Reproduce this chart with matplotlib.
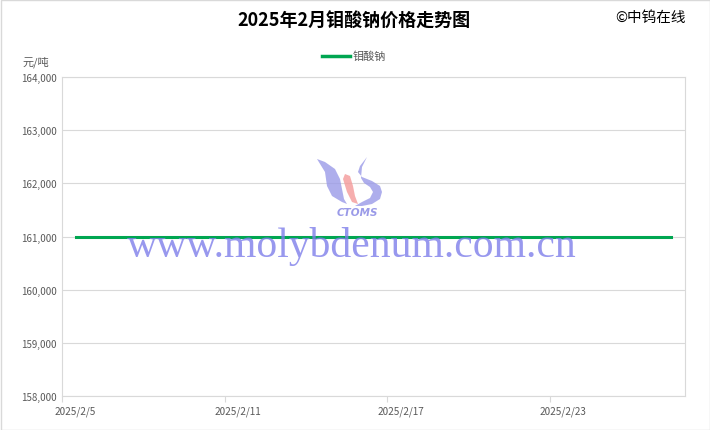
import matplotlib.pyplot as plt
import matplotlib.transforms as mtransforms
from matplotlib.patches import Polygon
from matplotlib.lines import Line2D
import numpy as np

plt.rcParams['font.family'] = ['Noto Sans CJK SC', 'DejaVu Sans']

# data: daily price, 2025/2/5 .. 2025/2/27
dates = ['2025/2/%d' % d for d in range(5, 28)]
price = [161000] * len(dates)
yticks = [158000, 159000, 160000, 161000, 162000, 163000, 164000]

W, H = 710, 431
fig = plt.figure(figsize=(W / 100, H / 100), dpi=100)
ax = fig.add_axes([62 / W, 1 - 397 / H, (685 - 62) / W, (397 - 78) / H])

x = np.arange(len(dates))
ax.plot(x, price, color='#00A651', lw=2.2, zorder=3)

ax.set_xlim(-0.5, len(dates) - 0.5)
ax.set_ylim(158000, 164000)
ax.set_yticks(yticks)
ax.set_yticklabels(['{:,}'.format(v) for v in yticks])
ax.grid(axis='y', color='#D9D9D9', lw=0.8)
ax.set_axisbelow(True)

# tick marks between categories, labels on category centres
ax.set_xticks([-0.5, 5.5, 11.5, 17.5])
ax.set_xticklabels([])
ax.set_xticks([0, 6, 12, 18], minor=True)
ax.set_xticklabels([dates[i] for i in [0, 6, 12, 18]], minor=True)
ax.tick_params(axis='x', which='major', length=4, color='#D9D9D9')
ax.tick_params(axis='x', which='minor', length=0, pad=7, labelsize=7.2, labelcolor='#595959')
ax.tick_params(axis='y', length=0, pad=4, labelsize=7, labelcolor='#595959')
for s in ax.spines.values():
    s.set_color('#D9D9D9')
    s.set_linewidth(0.8)

# pixel coordinates, origin top-left
px = mtransforms.Affine2D().scale(1 / W, -1 / H).translate(0, 1) + fig.transFigure

fig.text(354, 21, '2025年2月钼酸钠价格走势图', transform=px, ha='center', va='center',
         fontsize=13, fontweight='bold', color='#000000')
fig.text(651, 18, '©中钨在线', transform=px, ha='center', va='center', fontsize=10.5, color='#000000')
fig.text(36, 62, '元/吨', transform=px, ha='center', va='center', fontsize=8, color='#595959')

fig.add_artist(Line2D([322, 350], [57, 57], transform=px, color='#00A651', lw=2.5))
fig.text(353, 57, '钼酸钠', transform=px, ha='left', va='center', fontsize=8, color='#595959')

# watermark
fig.text(352, 247, 'www.molybdenum.com.cn', transform=px, ha='center', va='center',
         fontsize=30, family='Liberation Serif', color='#7E7EEA', alpha=0.8, zorder=5)

# CTOMS logo
left = [(317, 160), (325, 163), (335, 170), (340, 180), (342, 190), (344, 200), (347, 205),
        (342, 203), (332, 197), (327, 187), (325, 173)]
mid = [(345, 175), (350, 177), (353, 187), (355, 197), (358, 205),
       (352, 203), (347, 193), (343, 180)]
right = [(367, 158), (360, 167), (358, 173), (362, 178), (372, 182), (380, 187), (382, 193),
         (380, 200), (372, 205), (362, 207), (355, 207), (362, 203), (370, 199), (373, 193),
         (370, 188), (364, 184), (361, 179), (362, 168)]
fig.add_artist(Polygon(left, closed=True, transform=px, fc='#9A9AE8', ec='none', alpha=0.8))
fig.add_artist(Polygon(mid, closed=True, transform=px, fc='#F49A9A', ec='none', alpha=0.8))
fig.add_artist(Polygon(right, closed=True, transform=px, fc='#9A9AE8', ec='none', alpha=0.8))
fig.text(357, 213, 'CTOMS', transform=px, ha='center', va='center', fontsize=7.5,
         fontweight='bold', style='italic', family='DejaVu Sans', color='#9A9AE8')

# outer frame
fig.add_artist(plt.Rectangle((0.5 / W, 0.5 / H), 1 - 1 / W, 1 - 1 / H, transform=fig.transFigure,
                             fill=False, ec='#D9D9D9', lw=1))

fig.savefig('out.png', dpi=100)
